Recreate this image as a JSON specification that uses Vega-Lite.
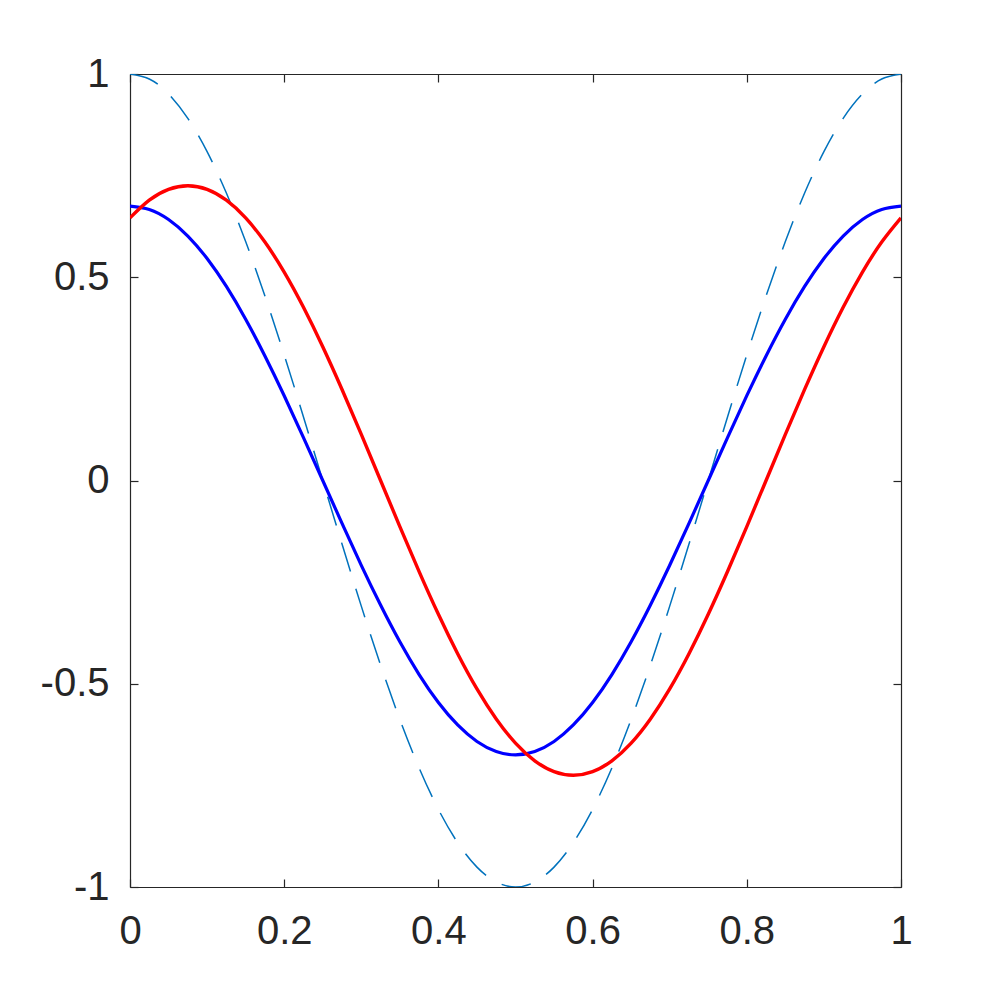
{
  "$schema": "https://vega.github.io/schema/vega-lite/v6.json",
  "autosize": "none",
  "width": 771,
  "height": 813,
  "padding": {"left": 130, "top": 74, "right": 96, "bottom": 110},
  "background": "white",
  "config": {
    "view": {"stroke": null},
    "axis": {
      "grid": false,
      "labelFont": "Liberation Sans",
      "labelFontSize": 40,
      "labelColor": "#262626",
      "domainColor": "#262626",
      "tickColor": "#262626",
      "domainWidth": 1.2,
      "tickWidth": 1.2,
      "tickSize": -8,
      "title": null
    }
  },
  "data": {
    "values": [
      {"x": 0, "d": 1, "b": 0.675, "r": 0.646},
      {"x": 0.025, "d": 0.98769, "b": 0.6667, "r": 0.6895},
      {"x": 0.05, "d": 0.95106, "b": 0.642, "r": 0.7161},
      {"x": 0.075, "d": 0.89101, "b": 0.6014, "r": 0.725},
      {"x": 0.1, "d": 0.80902, "b": 0.5461, "r": 0.7161},
      {"x": 0.125, "d": 0.70711, "b": 0.4773, "r": 0.6895},
      {"x": 0.15, "d": 0.58779, "b": 0.3968, "r": 0.646},
      {"x": 0.175, "d": 0.45399, "b": 0.3064, "r": 0.5865},
      {"x": 0.2, "d": 0.30902, "b": 0.2086, "r": 0.5127},
      {"x": 0.225, "d": 0.15643, "b": 0.1056, "r": 0.4261},
      {"x": 0.25, "d": 0, "b": 0, "r": 0.3291},
      {"x": 0.275, "d": -0.15643, "b": -0.1056, "r": 0.224},
      {"x": 0.3, "d": -0.30902, "b": -0.2086, "r": 0.1134},
      {"x": 0.325, "d": -0.45399, "b": -0.3064, "r": 0},
      {"x": 0.35, "d": -0.58779, "b": -0.3968, "r": -0.1134},
      {"x": 0.375, "d": -0.70711, "b": -0.4773, "r": -0.224},
      {"x": 0.4, "d": -0.80902, "b": -0.5461, "r": -0.3291},
      {"x": 0.425, "d": -0.89101, "b": -0.6014, "r": -0.4261},
      {"x": 0.45, "d": -0.95106, "b": -0.642, "r": -0.5127},
      {"x": 0.475, "d": -0.98769, "b": -0.6667, "r": -0.5865},
      {"x": 0.5, "d": -1, "b": -0.675, "r": -0.646},
      {"x": 0.525, "d": -0.98769, "b": -0.6667, "r": -0.6895},
      {"x": 0.55, "d": -0.95106, "b": -0.642, "r": -0.7161},
      {"x": 0.575, "d": -0.89101, "b": -0.6014, "r": -0.725},
      {"x": 0.6, "d": -0.80902, "b": -0.5461, "r": -0.7161},
      {"x": 0.625, "d": -0.70711, "b": -0.4773, "r": -0.6895},
      {"x": 0.65, "d": -0.58779, "b": -0.3968, "r": -0.646},
      {"x": 0.675, "d": -0.45399, "b": -0.3064, "r": -0.5865},
      {"x": 0.7, "d": -0.30902, "b": -0.2086, "r": -0.5127},
      {"x": 0.725, "d": -0.15643, "b": -0.1056, "r": -0.4261},
      {"x": 0.75, "d": 0, "b": 0, "r": -0.3291},
      {"x": 0.775, "d": 0.15643, "b": 0.1056, "r": -0.224},
      {"x": 0.8, "d": 0.30902, "b": 0.2086, "r": -0.1134},
      {"x": 0.825, "d": 0.45399, "b": 0.3064, "r": 0},
      {"x": 0.85, "d": 0.58779, "b": 0.3968, "r": 0.1134},
      {"x": 0.875, "d": 0.70711, "b": 0.4773, "r": 0.224},
      {"x": 0.9, "d": 0.80902, "b": 0.5461, "r": 0.3291},
      {"x": 0.925, "d": 0.89101, "b": 0.6014, "r": 0.4261},
      {"x": 0.95, "d": 0.95106, "b": 0.642, "r": 0.5127},
      {"x": 0.975, "d": 0.98769, "b": 0.6667, "r": 0.5865},
      {"x": 1, "d": 1, "b": 0.675, "r": 0.646}
    ]
  },
  "layer": [
    {
      "encoding": {
        "x": {
          "field": "x", "type": "quantitative",
          "scale": {"domain": [0, 1], "nice": false, "zero": false},
          "axis": {"orient": "bottom", "values": [0, 0.2, 0.4, 0.6, 0.8, 1], "labelExpr": "'' + datum.value", "labelPadding": 32, "labelFlush": false, "labelOverlap": false}
        }
      },
      "layer": [
        {
          "mark": {"type": "line", "color": "#0072BD", "strokeWidth": 1.5, "strokeDash": [30, 18], "interpolate": "natural", "clip": true},
          "encoding": {
            "y": {
              "field": "d", "type": "quantitative",
              "scale": {"domain": [-1, 1], "nice": false, "zero": false},
              "axis": {"orient": "left", "values": [-1, -0.5, 0, 0.5, 1], "labelExpr": "'' + datum.value", "labelPadding": 29, "labelFlush": false, "labelOverlap": false}
            }
          }
        },
        {
          "mark": {"type": "line", "color": "#0000FF", "strokeWidth": 3.2, "interpolate": "natural", "clip": true},
          "encoding": {
            "y": {"field": "b", "type": "quantitative"}
          }
        }
      ]
    },
    {
      "mark": {"type": "line", "color": "#FF0000", "strokeWidth": 3.4, "interpolate": "natural", "clip": true},
      "encoding": {
        "x": {
          "field": "x", "type": "quantitative",
          "axis": {"orient": "top", "values": [0, 0.2, 0.4, 0.6, 0.8, 1], "labels": false}
        },
        "y": {
          "field": "r", "type": "quantitative",
          "axis": {"orient": "right", "values": [-1, -0.5, 0, 0.5, 1], "labels": false}
        }
      }
    }
  ],
  "resolve": {"axis": {"x": "independent", "y": "independent"}}
}
